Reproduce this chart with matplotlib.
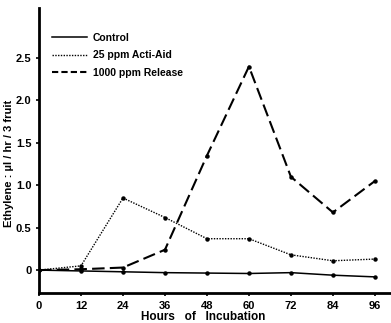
import matplotlib
matplotlib.use("Agg")
import matplotlib.pyplot as plt
from matplotlib.lines import Line2D

hours = [0, 12, 24, 36, 48, 60, 72, 84, 96]
control = [0.0, -0.01, -0.02, -0.03, -0.035, -0.04, -0.03, -0.06, -0.08]
acti_aid = [0.0, 0.05, 0.85, 0.62, 0.37, 0.37, 0.18, 0.11, 0.13]
release = [0.0, 0.01, 0.03, 0.24, 1.35, 2.4, 1.1, 0.68, 1.05]

x_ticks = [0, 12, 24, 36, 48, 60, 72, 84, 96]
y_ticks = [0, 0.5, 1.0, 1.5, 2.0, 2.5]
y_tick_labels = ["0", "0.5", "1.0", "1.5", "2.0", "2.5"]

plt.rcParams["font.family"] = ["Liberation Sans", "DejaVu Sans"]
plt.rcParams["font.weight"] = "bold"

fig = plt.figure(figsize=(3.91, 3.23), dpi=100)
ax = fig.add_axes([39 / 391, 1 - 293 / 323, 1 - 39 / 391, (293 - 8) / 323])

ax.plot(hours, control, color="black", lw=1.1, marker="o", ms=2.2)
ax.plot(hours, acti_aid, color="black", lw=1.0, ls=(0, (1, 1)), marker="o", ms=2.2)
ax.plot(hours, release, color="black", lw=1.5, ls=(0, (6, 2.5)), marker="o", ms=2.2)

ax.set_xlim(0, 100.6)
ax.set_ylim(-0.27, 3.09)
ax.set_xticks(x_ticks)
ax.set_xticklabels([str(h) for h in x_ticks], fontsize=8, fontweight="bold")
ax.set_yticks(y_ticks)
ax.set_yticklabels(y_tick_labels, fontsize=8, fontweight="bold")
ax.tick_params(axis="both", direction="out", length=2.5, width=1.2, pad=3)

for side in ("top", "right"):
    ax.spines[side].set_visible(False)
ax.spines["left"].set_linewidth(2.0)
ax.spines["bottom"].set_linewidth(2.0)

fig.text(203 / 391, 1 - 317 / 323, "Hours   of   Incubation", ha="center", va="center",
         fontsize=8.5, fontweight="bold")
fig.text(9 / 391, 1 - 163 / 323, "Ethylene : µl / hr / 3 fruit", ha="center", va="center",
         rotation=90, fontsize=8, fontweight="bold")

handles = [
    Line2D([], [], color="black", lw=1.1),
    Line2D([], [], color="black", lw=1.0, ls=(0, (1, 1))),
    Line2D([], [], color="black", lw=1.5, ls=(0, (3, 1.5))),
]
labels = ["Control", "25 ppm Acti-Aid", "1000 ppm Release"]
ax.legend(handles, labels, loc="upper left", bbox_to_anchor=(0.01, 0.945),
          frameon=False, handlelength=3.4, handletextpad=0.5,
          labelspacing=0.7, prop={"weight": "bold", "size": 7.5})

fig.savefig("out.png", dpi=100)
